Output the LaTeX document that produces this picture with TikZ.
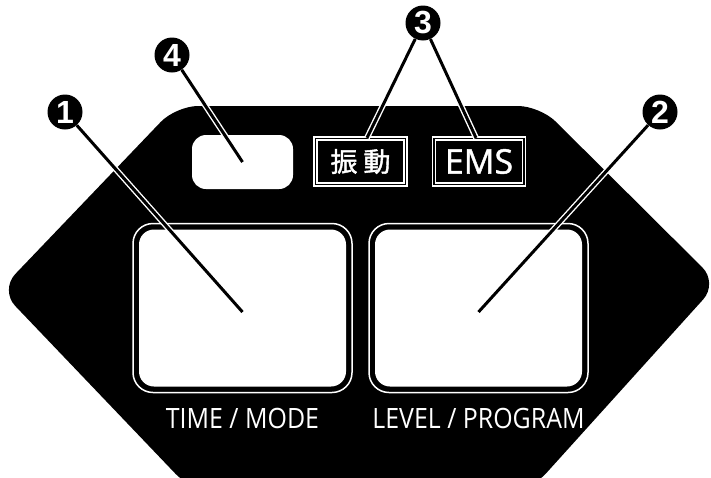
\documentclass[tikz,border=0pt]{standalone}
\usepackage{fontspec}
\setmainfont{Open Sans}
\newfontfamily\labelfont[FakeStretch=0.89]{Open Sans}
\newfontfamily\tagfont[FakeBold=1.2]{Open Sans}
\newfontfamily\numfont{Liberation Sans}
\newfontfamily\cjkfont[FakeBold=1.5]{Noto Sans CJK JP}
\usepackage{tikz}
\usetikzlibrary{positioning}
\tikzstyle{btnframe} = [rectangle, rounded corners=20pt, minimum width=219pt, minimum height=169pt, draw=white, line width=1.5pt]
\tikzstyle{btnpad} = [rectangle, rounded corners=15pt, minimum width=207pt, minimum height=157pt, fill=white]
\tikzstyle{btnlabel} = [text=white, inner sep=0pt, font=\labelfont\fontsize{28}{28}\selectfont]
\tikzstyle{tagbox} = [rectangle, minimum width=90pt, minimum height=46pt, draw=white, line width=1.3pt, double=black, double distance=1.6pt, text=white, inner sep=0pt]
\tikzstyle{callnum} = [circle, fill=black, text=white, minimum size=35pt, inner sep=0pt, font=\numfont\bfseries\fontsize{32}{32}\selectfont]
\tikzstyle{leader} = [draw=white, line width=1.4pt, double=black, double distance=3pt]

\begin{document}
\begin{tikzpicture}[x=1pt, y=-1pt]
    \useasboundingbox (0,0) rectangle (711,477);
    \clip (0,0) rectangle (711,477);
    \fill[black, rounded corners=22pt] (176,106) -- (540,106) -- (718,283) -- (531,490) -- (191,490) -- (0,290) -- cycle;

    \node (timeframe) [btnframe] at (242.5,308) {};
    \node (timepad) [btnpad] at (timeframe.center) {};
    \node (levelframe) [btnframe] at (478.5,308) {};
    \node (levelpad) [btnpad] at (levelframe.center) {};
    \node (timelabel) [btnlabel, below=35pt of timeframe, anchor=base] {TIME / MODE};
    \node (levellabel) [btnlabel, below=35pt of levelframe, anchor=base] {LEVEL / PROGRAM};

    \node (screen) [rectangle, rounded corners=14pt, minimum width=101pt, minimum height=54pt, fill=white] at (242.5,162) {};
    \node (vibbox) [tagbox, font=\cjkfont\fontsize{27}{27}\selectfont] at (360.5,161.5) {振\kern6pt 動};
    \node (emsbox) [tagbox, font=\tagfont\fontsize{34}{34}\selectfont] at (479,161.5) {EMS};

    \node (num1) [callnum] at (65,112) {1};
    \node (num2) [callnum] at (660,112) {2};
    \node (num3) [callnum] at (423,23) {3};
    \node (num4) [callnum] at (172,55) {4};

    \draw [leader] (num1) -- ([yshift=-4pt]timepad.center);
    \draw [leader] (num2) -- ([yshift=-4pt]levelpad.center);
    \draw [leader] (num3) -- ([xshift=6.5pt]vibbox.north);
    \draw [leader] (num3) -- ([xshift=-3pt]emsbox.north);
    \draw [leader] (num4) -- (screen.center);
\end{tikzpicture}
\end{document}
